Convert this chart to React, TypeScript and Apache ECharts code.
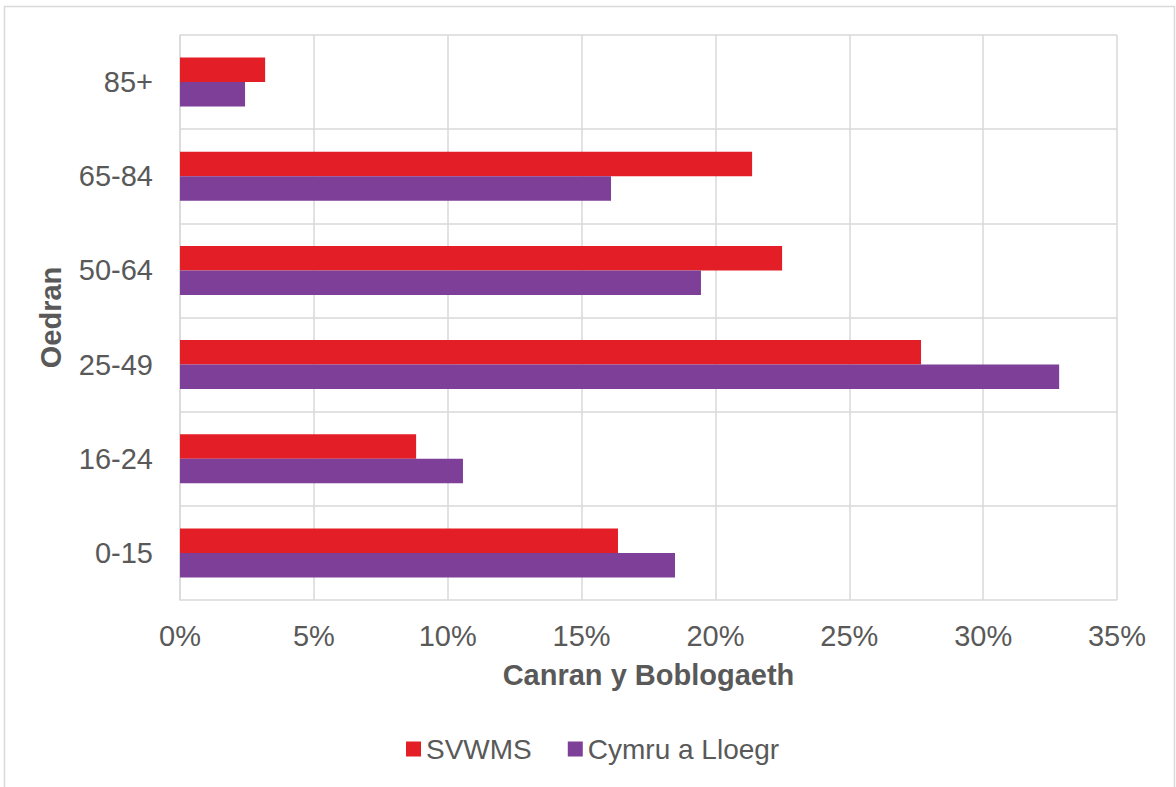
import React, { useEffect, useRef } from "react";
import * as echarts from "echarts";

const categories = ["0-15", "16-24", "25-49", "50-64", "65-84", "85+"];
const svwms = [16.36, 8.82, 27.68, 22.49, 21.37, 3.18];
const cymru = [18.49, 10.57, 32.84, 19.46, 16.1, 2.43];
const seriesNames = ["SVWMS", "Cymru a Lloegr"];

const FONT = "'Liberation Sans', Arial, sans-serif";
const TEXT = "#595959";
const GRID = "#d9d9d9";

export default function App() {
  const ref = useRef<HTMLDivElement>(null);
  useEffect(() => {
    const chart = echarts.init(ref.current!, null, { renderer: "svg" });
    chart.setOption({
      animation: false,
      backgroundColor: "#fff",
      textStyle: { fontFamily: FONT },
      graphic: [
        {
          type: "rect",
          shape: { x: 4.5, y: 6.5, width: 1170, height: 800 },
          style: { fill: "none", stroke: GRID, lineWidth: 1.5 },
          silent: true,
        },
      ],
      grid: { left: 180, right: 59, top: 35, bottom: 187, containLabel: false },
      legend: {
        top: 730,
        left: 401,
        itemWidth: 15,
        itemHeight: 15,
        itemGap: 36,
        icon: "rect",
        textStyle: { fontSize: 28, color: TEXT, fontFamily: FONT },
        data: seriesNames,
      },
      xAxis: {
        type: "value",
        min: 0,
        max: 35,
        interval: 5,
        name: "Canran y Boblogaeth",
        nameLocation: "middle",
        nameGap: 60,
        nameTextStyle: { fontSize: 29, fontWeight: "bold", color: TEXT, fontFamily: FONT },
        axisLabel: { formatter: "{value}%", fontSize: 29, color: TEXT, margin: 21, fontFamily: FONT },
        axisLine: { show: false },
        axisTick: { show: false },
        splitLine: { show: true, lineStyle: { color: GRID, width: 1.5 } },
      },
      yAxis: {
        type: "category",
        data: categories,
        name: "Oedran",
        nameLocation: "middle",
        nameGap: 115,
        nameRotate: 90,
        nameTextStyle: { fontSize: 29, fontWeight: "bold", color: TEXT, fontFamily: FONT },
        axisLabel: { fontSize: 29, color: TEXT, margin: 27, fontFamily: FONT },
        axisLine: { show: true, lineStyle: { color: GRID, width: 1.5 } },
        axisTick: { show: false },
        splitLine: { show: true, lineStyle: { color: GRID, width: 1.5 } },
      },
      series: [
        {
          name: seriesNames[0],
          type: "bar",
          data: svwms,
          itemStyle: { color: "#e31e26" },
          barGap: "0%",
          barCategoryGap: "48%",
        },
        {
          name: seriesNames[1],
          type: "bar",
          data: cymru,
          itemStyle: { color: "#7d3f98" },
          barGap: "0%",
          barCategoryGap: "48%",
        },
      ],
    });
    return () => chart.dispose();
  }, []);
  return (
    <div
      ref={ref}
      style={{ position: "fixed", left: 0, top: 0, width: 1176, height: 787 }}
    />
  );
}
